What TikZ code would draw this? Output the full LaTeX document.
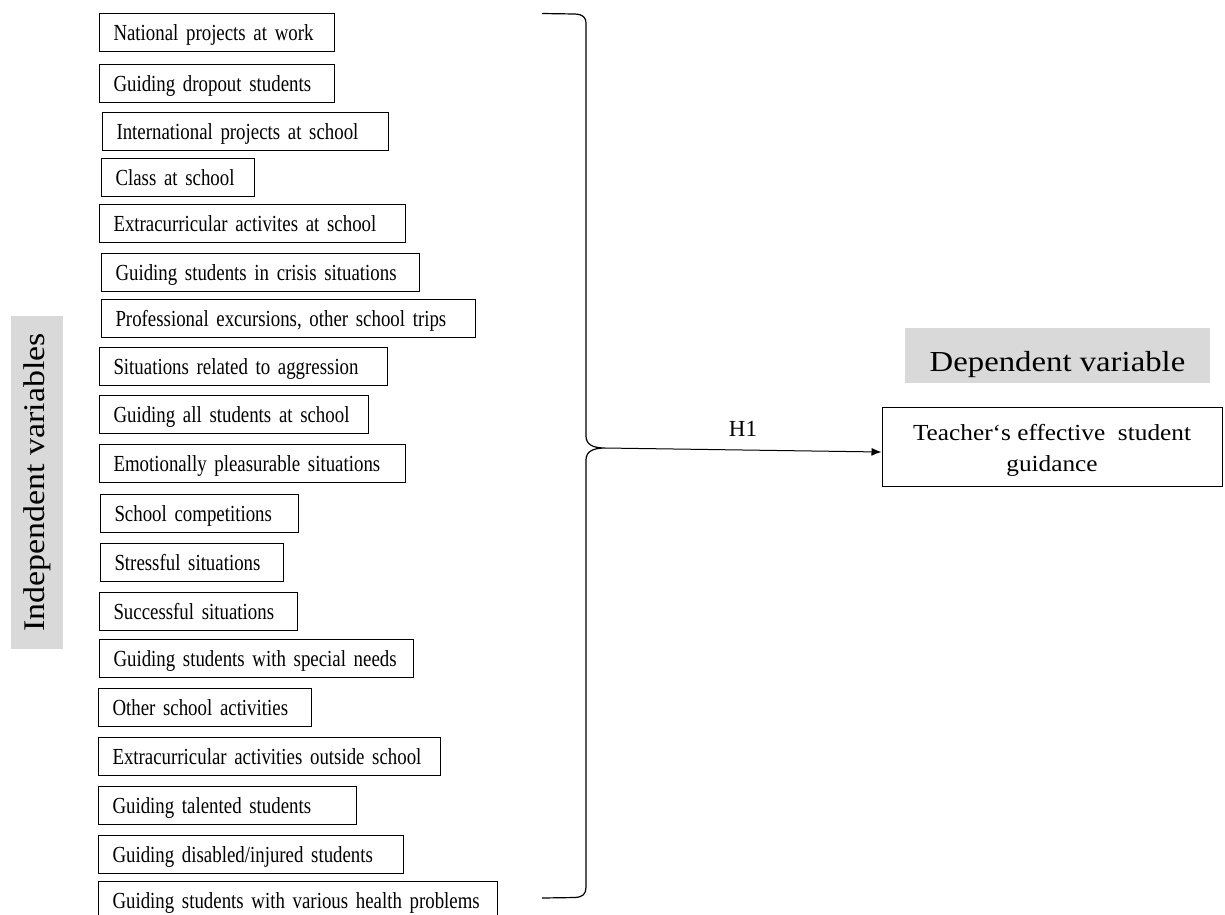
\documentclass[tikz,border=0pt]{standalone}
\usepackage{fontspec}
\setmainfont{Liberation Serif}
\newfontfamily\boxfont[FakeStretch=0.82]{Liberation Serif}
\newfontfamily\headfont[FakeStretch=1.13]{Liberation Serif}
\newfontfamily\goalfont[FakeStretch=1.1]{Liberation Serif}
\usetikzlibrary{positioning, arrows.meta}
\definecolor{headgray}{RGB}{217,217,217}

\tikzset{
  varbox/.style={draw, line width=1pt, anchor=north west, inner xsep=14pt,
    inner ysep=0pt, minimum height=38pt, align=left, text height=21pt,
    text depth=5pt, font=\boxfont\fontsize{23}{26}\selectfont,
    execute at begin node=\hbox\bgroup, execute at end node=\egroup},
  headbox/.style={fill=headgray, inner sep=0pt,
    font=\headfont\fontsize{30}{34}\selectfont}
}

\begin{document}
\begin{tikzpicture}[x=1pt, y=-1pt, >={Latex[length=10pt,width=8pt]}]
  \useasboundingbox (0,0) rectangle (1225,914);
  % independent variables
  \node [varbox, text width=207pt] (v1) at (99,13) {National projects at work};
  \node [varbox, text width=207pt] (v2) at (99,64) {Guiding dropout students};
  \node [varbox, text width=258pt] (v3) at (102,112) {International projects at school};
  \node [varbox, text width=125pt] (v4) at (101,158) {Class at school};
  \node [varbox, text width=278pt] (v5) at (99,204) {Extracurricular activites at school};
  \node [varbox, text width=290pt] (v6) at (101,253) {Guiding students in crisis situations};
  \node [varbox, text width=346pt] (v7) at (101,299) {Professional excursions, other school trips};
  \node [varbox, text width=260pt] (v8) at (99,347) {Situations related to aggression};
  \node [varbox, text width=241pt] (v9) at (99,395) {Guiding all students at school};
  \node [varbox, text width=278pt] (v10) at (99,444) {Emotionally pleasurable situations};
  \node [varbox, text width=170pt] (v11) at (100,494) {School competitions};
  \node [varbox, text width=155pt] (v12) at (100,543) {Stressful situations};
  \node [varbox, text width=170pt] (v13) at (99,592) {Successful situations};
  \node [varbox, text width=286pt] (v14) at (99,639) {Guiding students with special needs};
  \node [varbox, text width=185pt] (v15) at (98,688) {Other school activities};
  \node [varbox, text width=314pt] (v16) at (98,737) {Extracurricular activities outside school};
  \node [varbox, text width=230pt] (v17) at (98,786) {Guiding talented students};
  \node [varbox, text width=277pt] (v18) at (98,835) {Guiding disabled/injured students};
  \node [varbox, text width=371pt] (v19) at (98,881) {Guiding students with various health problems};
  \node [headbox, rotate=90, minimum width=333pt, minimum height=52pt] (indep) at (37,482.5) {Independent variables};
  % brace
  \draw [line width=1.2pt] (542,13.5) -- (575,14) .. controls (583,14.5) and (586,17) .. (586,24)
    -- (586,436) .. controls (586,444) and (592,448) .. (605,448) coordinate (tip)
    .. controls (592,448) and (586,452) .. (586,460)
    -- (586,887) .. controls (586,894) and (583,897) .. (575,897.5) -- (542,898);
  % dependent variable
  \node [headbox, font=\headfont\fontsize{29}{33}\selectfont, minimum width=305pt,
    minimum height=55pt, text height=38pt, text depth=7pt] (dep) at (1057.5,355.5) {Dependent variable};
  \node [draw, line width=1pt, minimum width=340pt, minimum height=79pt, align=center,
    font=\goalfont\fontsize{23}{31}\selectfont] (goal) at (1052,446.5) {\rule{0pt}{24pt}Teacher‘s effective\ \ student\\guidance};
  \draw [line width=1pt, ->] (tip) -- ([yshift=-5.5pt]goal.west);
  \node [font=\fontsize{23}{26}\selectfont, anchor=base] (h1) at (743,436) {H1};
\end{tikzpicture}
\end{document}
